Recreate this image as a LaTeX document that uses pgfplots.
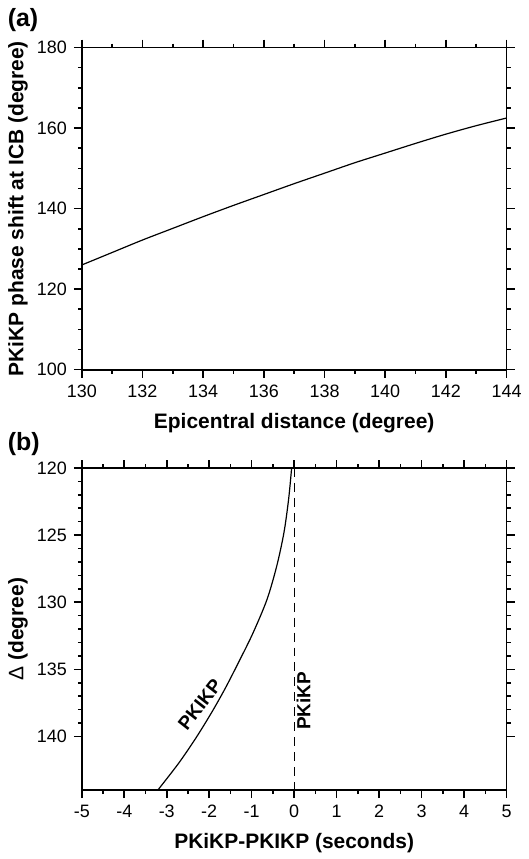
\documentclass[border=0pt]{standalone}
\usepackage{fontspec}
\setmainfont{Liberation Sans}
\usepackage{pgfplots}
\pgfplotsset{compat=1.18}
\begin{document}
\begin{tikzpicture}
\pgfplotsset{
  common/.style={
    scale only axis, width=213pt, height=161.5pt,
    tick align=outside,
    major tick length=4pt, minor tick length=2pt,
    every tick/.style={black, line width=0.8pt},
    axis line style={line width=0.9pt},
    tick label style={font=\fontsize{9}{10}\selectfont},
    label style={font=\bfseries\fontsize{10.5}{12}\selectfont},
    /pgf/number format/assume math mode=true,
    /pgf/number format/1000 sep={},
  }
}
\path (0,0) rectangle (264pt,-429.5pt);
\node[anchor=base west, inner sep=0pt, font=\bfseries\fontsize{12.5}{14}\selectfont] at (3.7pt,-13.5pt) {(a)};
\node[anchor=base west, inner sep=0pt, font=\bfseries\fontsize{12.5}{14}\selectfont] at (3.7pt,-226pt) {(b)};

\begin{axis}[common, at={(41pt,-185.35pt)}, anchor=south west,
  xmin=130, xmax=144, ymin=100, ymax=180,
  xtick={130,132,...,144}, minor x tick num=1,
  ytick={100,120,...,180}, minor y tick num=3,
  xlabel={Epicentral distance (degree)},
  ylabel={PKiKP phase shift at ICB (degree)},
  xlabel style={at={(axis description cs:0.5,-0.167)}, anchor=center},
  ylabel style={at={(axis description cs:-0.150,0.5)}, anchor=center}]
\addplot[black, line width=0.6pt, smooth] coordinates {
(130,126.0) (131,129.1) (132,132.2) (133,135.1) (134,138.0) (135,140.8)
(136,143.5) (137,146.2) (138,148.8) (139,151.4) (140,153.8) (141,156.2)
(142,158.5) (143,160.6) (144,162.5)};
\end{axis}

\begin{axis}[common, at={(41pt,-396.15pt)}, anchor=south west,
  y dir=reverse,
  xmin=-5, xmax=5, ymin=120, ymax=144,
  xtick={-5,-4,...,5}, minor x tick num=1,
  ytick={120,125,...,140}, minor y tick num=4,
  xlabel={PKiKP-PKIKP (seconds)},
  ylabel={{\mdseries Δ} (degree)},
  xlabel style={at={(axis description cs:0.5,-0.163)}, anchor=center},
  ylabel style={at={(axis description cs:-0.150,0.5)}, anchor=center}]
\addplot[black, line width=0.6pt, smooth] coordinates {
(-0.06,120.0) (-0.13,122.3) (-0.24,124.8) (-0.41,127.3)
(-0.64,129.8) (-0.97,132.3) (-1.28,134.3) (-1.62,136.4)
(-1.94,138.2) (-2.31,140.1) (-2.72,142.0) (-3.21,144.0)};
\addplot[black, line width=0.6pt, dash pattern=on 4.5pt off 3pt] coordinates {(0,120) (0,144)};
\node[rotate=52, font=\bfseries\fontsize{9.5}{11}\selectfont, inner sep=0pt] at (axis cs:-2.22,137.6) {PKIKP};
\node[rotate=90, font=\bfseries\fontsize{9.5}{11}\selectfont, inner sep=0pt] at (axis cs:0.22,137.35) {PKiKP};
\end{axis}
\end{tikzpicture}
\end{document}
